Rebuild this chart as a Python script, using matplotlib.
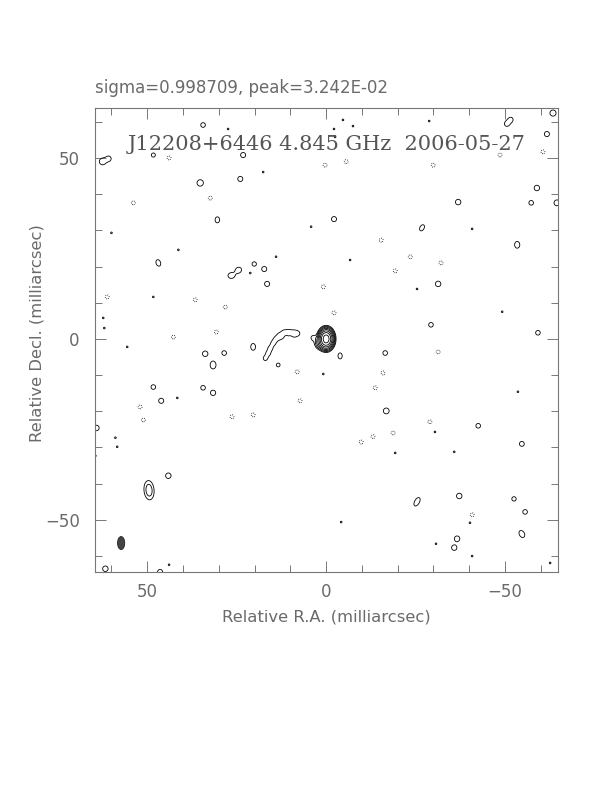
import numpy as np
import matplotlib
matplotlib.use("Agg")
import matplotlib.pyplot as plt
from matplotlib.patches import Ellipse

header_text = "sigma=0.998709, peak=3.242E-02"
title_text = "J12208+6446 4.845 GHz  2006-05-27"
xlabel_text = "Relative R.A. (milliarcsec)"
ylabel_text = "Relative Decl. (milliarcsec)"
x_limits = (64.6, -64.8)
y_limits = (-64.4, 63.8)
major_ticks = [-50, 0, 50]

# contour levels in units of the lowest contour
neg_levels = [-1]
pos_levels = [1, 2, 4, 8, 16, 32, 64, 128]

# core + extended components: ra, dec, amp, major sigma, minor sigma, angle(deg)
comp_ra  = [0.0, 1.5, 49.5, 46.9, -26.8, -53.4, -25.4, -54.7, 26.5, 24.5, 31.6, 20.4, -3.9, 30.4]
comp_dec = [0.0, -1.2, -41.8, 21.0, 30.7, 26.0, -45.0, -53.9, 17.5, 19.0, -7.2, -2.2, -4.7, 32.9]
comp_amp = [200.0, 6.0, 3.0, 1.6, 1.6, 1.7, 1.7, 1.7, 1.7, 1.7, 1.8, 1.7, 1.6, 1.6]
comp_maj = [1.15, 0.9, 1.8, 0.95, 0.95, 0.9, 1.25, 1.0, 0.9, 0.85, 1.0, 0.9, 0.85, 0.85]
comp_min = [0.85, 0.9, 0.95, 0.65, 0.6, 0.7, 0.65, 0.7, 0.75, 0.75, 0.75, 0.65, 0.6, 0.65]
comp_ang = [90, 0, 95, 110, 60, 90, 60, 120, 0, 30, 90, 90, 90, 90]

# curved jet feature (ridge points)
jet_ra  = [17.0, 16.2, 15.6, 14.8, 14.0, 13.0, 11.8, 10.4, 9.0, 7.9, 12.4, 10.6, 9.0]
jet_dec = [-5.4, -4.0, -2.6, -1.2, 0.0, 1.0, 1.9, 2.0, 1.8, 1.5, 0.3, 0.3, 0.4]
jet_amp = [1.35, 1.35, 1.35, 1.35, 1.3, 1.25, 1.2, 1.2, 1.2, 1.25, 0.7, 0.7, 0.6]

# small positive noise islands
blob_ra  = [34.4, 23.2, 35.2, 24.0, 20.1, 17.3, 16.5, -63.4, -61.7, -58.9,
            -57.3, -36.9, -64.5, -2.2, -31.3, -29.3, -59.2, 33.8, 28.5,
            3.6, 13.4, 48.3, 34.4, 31.6, 46.1, 64.2, 44.1, 61.7, 46.4,
            -16.5, -16.8, -42.5, -54.7, -37.2, -52.5, -55.6, -36.6, -35.8,
            -50.5, -51.6, 62.5, 60.8, 48.3]
blob_dec = [59.1, 50.8, 43.1, 44.2, 20.7, 19.3, 15.2, 62.4, 56.6, 41.7,
            37.6, 37.8, 37.6, 33.1, 15.2, 3.9, 1.7, -4.1, -3.9,
            0.3, -7.2, -13.3, -13.5, -14.9, -17.1, -24.6, -37.8, -63.5, -64.4,
            -3.9, -19.9, -24.0, -29.0, -43.4, -44.2, -47.8, -55.2, -57.7,
            59.4, 60.6, 49.0, 49.8, 50.8]
blob_amp = [1.4, 1.5, 1.9, 1.5, 1.35, 1.5, 1.5, 1.8, 1.5, 1.6,
            1.4, 1.6, 1.7, 1.5, 1.6, 1.4, 1.4, 1.6, 1.4,
            1.35, 1.25, 1.4, 1.4, 1.55, 1.5, 1.6, 1.6, 1.6, 1.5,
            1.4, 1.7, 1.4, 1.45, 1.6, 1.35, 1.4, 1.6, 1.55,
            1.4, 1.35, 1.9, 1.5, 1.3]

# tiny positive specks
dot_ra  = [27.4, 17.6, 60.0, 41.3, 14.0, 4.2, 48.3, 62.0, -4.7, -2.2, -7.5,
           -28.8, -40.8, -6.7, -25.4, -49.2, 55.6, 0.8, 41.6, 58.4, 64.5,
           43.9, -53.6, -35.8, -4.2, -30.7, -40.8, -62.6, 21.2, 58.9, -19.3,
           -30.4, -40.2, 62.3, -2.5]
dot_dec = [58.0, 46.1, 29.3, 24.6, 22.7, 31.0, 11.6, 3.0, 60.5, 58.0, 58.8,
           60.2, 30.4, 21.8, 13.8, 7.5, -2.2, -9.7, -16.3, -29.8, -32.3,
           -62.4, -14.6, -31.2, -50.6, -56.6, -60.0, -61.9, 18.2, -27.3, -31.5,
           -25.7, -50.8, 5.8, 55.8]

# negative noise islands (dotted contours)
neg_ra  = [43.9, 32.4, 53.9, 0.8, 0.3, 36.6, 28.2, 42.7, 30.7, -60.6, -48.6,
           -29.9, -15.4, -23.5, -32.1, -19.3, -2.2, 8.1, 52.0, 51.1, 26.3,
           20.4, 7.3, 61.2, -31.3, -15.9, -13.7, -29.0, -18.7, -13.1, -9.8,
           -40.8, -5.6]
neg_dec = [50.0, 38.9, 37.6, 14.4, 48.0, 10.8, 8.8, 0.5, 1.9, 51.7, 50.8,
           48.0, 27.3, 22.7, 21.0, 18.8, 7.2, -9.1, -18.8, -22.4, -21.5,
           -21.0, -17.1, 11.6, -3.6, -9.4, -13.5, -22.9, -26.0, -27.0, -28.5,
           -48.6, 49.0]

# restoring beam (bottom-left)
beam_ra, beam_dec = 57.3, -56.4
beam_width, beam_height = 2.0, 3.6

# ---------------- build the map ----------------
step = 0.12
gx = np.arange(-66, 66 + step, step)
gy = np.arange(-66, 66 + step, step)
X, Y = np.meshgrid(gx, gy)
Z = np.zeros_like(X)


def add_gauss(ra, dec, amp, smaj, smin, ang):
    r = 5 * max(smaj, smin)
    i0 = max(0, np.searchsorted(gx, ra - r)); i1 = np.searchsorted(gx, ra + r)
    j0 = max(0, np.searchsorted(gy, dec - r)); j1 = np.searchsorted(gy, dec + r)
    if i1 <= i0 or j1 <= j0:
        return
    xs = X[j0:j1, i0:i1]; ys = Y[j0:j1, i0:i1]
    u = -(xs - ra)  # display-right direction
    v = ys - dec
    t = np.deg2rad(ang)
    a = u * np.cos(t) + v * np.sin(t)
    b = -u * np.sin(t) + v * np.cos(t)
    Z[j0:j1, i0:i1] += amp * np.exp(-0.5 * ((a / smaj) ** 2 + (b / smin) ** 2))


for p in zip(comp_ra, comp_dec, comp_amp, comp_maj, comp_min, comp_ang):
    add_gauss(*p)
for ra, dec, amp in zip(jet_ra, jet_dec, jet_amp):
    add_gauss(ra, dec, amp, 0.7, 0.7, 0)
for ra, dec, amp in zip(blob_ra, blob_dec, blob_amp):
    add_gauss(ra, dec, amp, 0.78, 0.78, 0)
for ra, dec in zip(dot_ra, dot_dec):
    add_gauss(ra, dec, 1.15, 0.45, 0.45, 0)
for ra, dec in zip(neg_ra, neg_dec):
    add_gauss(ra, dec, -1.5, 0.6, 0.6, 0)

# ---------------- draw ----------------
txt = "#6a6a6a"
fig = plt.figure(figsize=(6.12, 7.92), dpi=100)
ax = fig.add_axes([95 / 612, 1 - 572 / 792, 463 / 612, 464 / 792])

ax.contour(X, Y, Z, levels=pos_levels, colors="black", linewidths=0.6,
           linestyles="solid")
ax.contour(X, Y, Z, levels=neg_levels, colors="black", linewidths=0.6,
           linestyles=[(0, (1, 1.5))])
ax.add_patch(Ellipse((beam_ra, beam_dec), beam_width, beam_height,
                     facecolor="#444444", edgecolor="#222222", lw=0.6))

ax.set_xlim(*x_limits)
ax.set_ylim(*y_limits)
ax.set_xticks(major_ticks)
ax.set_yticks(major_ticks)
ax.set_xticklabels(["\u221250", "0", "50"])
ax.set_yticklabels(["\u221250", "0", "50"])
ax.xaxis.set_minor_locator(matplotlib.ticker.MultipleLocator(10))
ax.yaxis.set_minor_locator(matplotlib.ticker.MultipleLocator(10))
ax.tick_params(which="both", direction="in", top=True, right=True,
               color="#777777", width=0.7, labelcolor=txt, labelsize=12)
ax.tick_params(which="major", length=8)
ax.tick_params(axis="x", which="major", pad=8)
ax.tick_params(axis="y", which="major", pad=11)
ax.tick_params(which="minor", length=5)
for s in ax.spines.values():
    s.set_color("#777777")
    s.set_linewidth(0.8)

ax.set_xlabel(xlabel_text, color=txt, fontsize=11.8)
ax.set_ylabel(ylabel_text, color=txt, fontsize=11.8)
ax.xaxis.set_label_coords(0.5, -(610 - 572) / 464)
ax.yaxis.set_label_coords(-(95 - 45) / 463, 0.515)

ax.text(0.5, 0.922, title_text, transform=ax.transAxes, ha="center",
        va="center", fontsize=15, color="#555555", family="DejaVu Serif")
fig.text(95 / 612, 1 - 88 / 792, header_text, ha="left", va="center",
         fontsize=12, color=txt)

fig.savefig("out.png", dpi=100)
